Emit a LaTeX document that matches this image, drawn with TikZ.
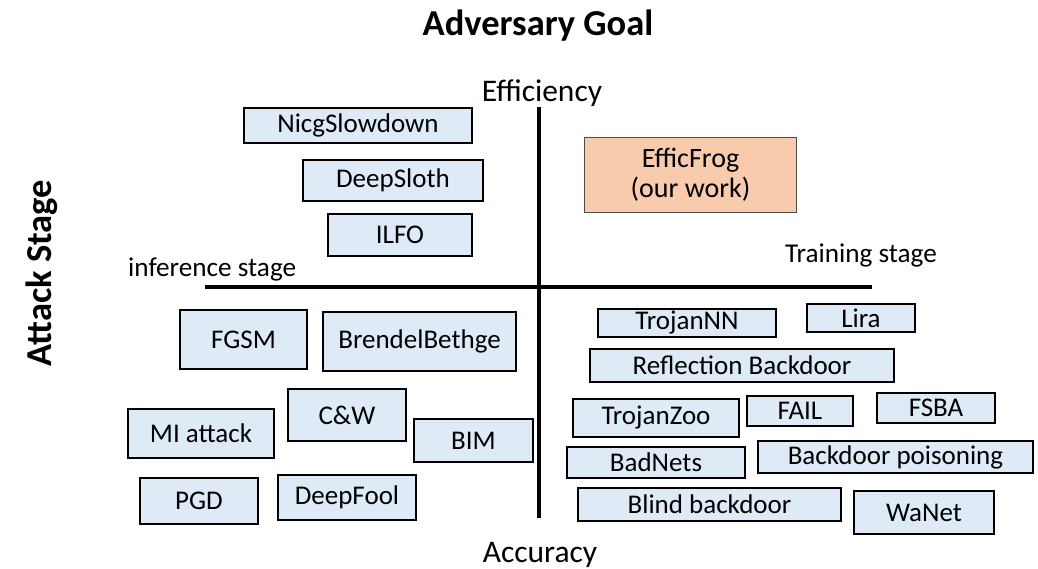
\documentclass[tikz,border=0pt]{standalone}
\usepackage{fontspec}
\setmainfont{Carlito}
\definecolor{boxblue}{RGB}{222,235,247}
\definecolor{boxorange}{RGB}{248,203,173}
\tikzset{
  bx/.style={draw=black, line width=2.7pt, fill=boxblue, inner sep=0pt,
    font=\fontsize{27}{30}\selectfont, align=center},
  ours/.style={draw=gray!60!black, line width=1.2pt, fill=boxorange, inner sep=0pt,
    font=\fontsize{28}{30}\selectfont, align=center},
  axis/.style={line width=4.5pt, black},
  lbl/.style={inner sep=0pt, font=\fontsize{31.5}{34}\selectfont},
  stagelbl/.style={inner sep=0pt, font=\fontsize{27.2}{30}\selectfont},
  ttl/.style={inner sep=0pt, font=\fontsize{36.5}{40}\selectfont\bfseries}
}
\newcommand{\bxat}[5]{\node[bx, minimum width=#3pt, minimum height=#4pt] (#1) at (#2) {#5};}
\begin{document}
\begin{tikzpicture}[x=1pt,y=-1pt]
\useasboundingbox (0,0) rectangle (1038,568);
% titles
\node[ttl, anchor=base] (goal) at (538,35) {Adversary Goal};
\node[ttl, anchor=base, rotate=90] (stage) at (51,273) {Attack Stage};
% axes labels
\node[lbl, anchor=base] (eff) at (542,101) {Efficiency};
\node[lbl, anchor=base] (acc) at (540,562) {Accuracy};
\node[stagelbl, anchor=base west] (inf) at (128,276) {inference stage};
\node[stagelbl, anchor=base east] (trn) at (937,262) {Training stage};
% axes
\coordinate (vtop) at (539,107);
\coordinate (vbot) at (539,518);
\coordinate (hl) at (205,287);
\coordinate (hr) at (872,287);
\draw[axis] (vtop) -- (vbot);
\draw[axis] (hl) -- (hr);
% top-left
\bxat{nicg}{358,125.5}{228}{35}{NicgSlowdown}
\bxat{sloth}{393,180.5}{180}{41}{DeepSloth}
\bxat{ilfo}{400,235}{144}{42}{ILFO}
% top-right
\node[ours, minimum width=212pt, minimum height=75pt] (frog) at (690.5,175) {EfficFrog\\(our work)};
% bottom-left
\bxat{fgsm}{243.5,339.5}{127}{59}{FGSM}
\bxat{brendel}{419.5,341.5}{193}{59}{BrendelBethge}
\bxat{cw}{347,415}{118}{52}{C\&W}
\bxat{mi}{201,433.5}{146}{49}{MI attack}
\bxat{bim}{473.5,440.5}{119}{43}{BIM}
\bxat{pgd}{199,501}{118}{46}{PGD}
\bxat{deepfool}{347,497.5}{138}{45}{DeepFool}
% bottom-right
\bxat{trojannn}{687,323}{178}{28}{TrojanNN}
\bxat{lira}{861,318}{108}{28}{Lira}
\bxat{refl}{742,365.5}{304}{33}{Reflection Backdoor}
\bxat{trojanzoo}{656,418}{166}{38}{TrojanZoo}
\bxat{fail}{800,411}{106}{30}{FAIL}
\bxat{fsba}{936,408}{118}{30}{FSBA}
\bxat{badnets}{656,462.5}{178}{31}{BadNets}
\bxat{bdpois}{895.5,457}{275}{32}{Backdoor poisoning}
\bxat{blind}{709.5,504.5}{263}{33}{Blind backdoor}
\bxat{wanet}{924,512.5}{140}{43}{WaNet}
\end{tikzpicture}
\end{document}
